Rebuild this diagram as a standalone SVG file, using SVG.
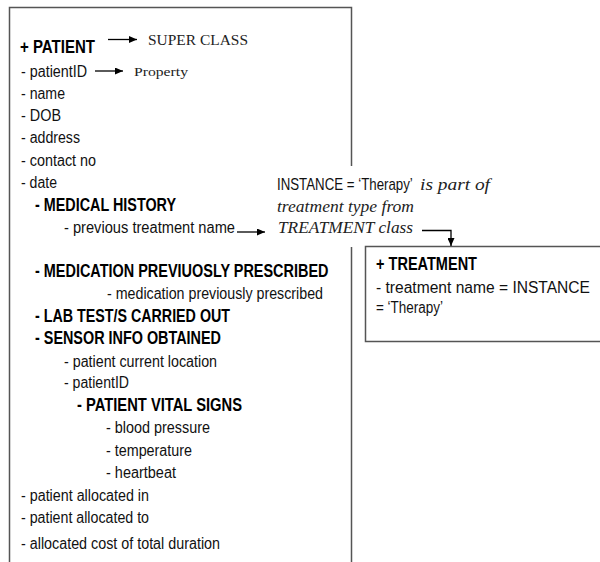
<svg xmlns="http://www.w3.org/2000/svg" width="600" height="562" viewBox="0 0 600 562">
<style>
.s{font-family:"Liberation Sans",Arial,sans-serif;font-size:16px;fill:#111}
.b{font-family:"Liberation Sans",Arial,sans-serif;font-size:18px;font-weight:bold;fill:#000}
.r{font-family:"Liberation Serif","Times New Roman",serif;fill:#222}
.i{font-family:"Liberation Serif","Times New Roman",serif;font-style:italic;font-size:16px;fill:#222}
.box{fill:none;stroke:#555;stroke-width:1.5}
.c{fill:none;stroke:#000;stroke-width:1.3}
</style>
<defs>
<marker id="ah" markerUnits="userSpaceOnUse" markerWidth="9" markerHeight="7" refX="8" refY="3.5" orient="auto">
<path d="M0,0 L8,3.5 L0,7 z" fill="#000"/>
</marker>
</defs>
<rect width="600" height="562" fill="#fff"/>

<g id="patient">
<path class="box" d="M351.5,166 V7.5 H9.5 V563 M351.5,247 V563"/>
<text class="b" x="20" y="52.5" textLength="75" lengthAdjust="spacingAndGlyphs">+ PATIENT</text>
<text class="s" x="21" y="77" textLength="66" lengthAdjust="spacingAndGlyphs">- patientID</text>
<text class="s" x="21" y="99" textLength="44" lengthAdjust="spacingAndGlyphs">- name</text>
<text class="s" x="21" y="121" textLength="40" lengthAdjust="spacingAndGlyphs">- DOB</text>
<text class="s" x="21" y="143" textLength="59" lengthAdjust="spacingAndGlyphs">- address</text>
<text class="s" x="21" y="166" textLength="75" lengthAdjust="spacingAndGlyphs">- contact no</text>
<text class="s" x="21" y="188" textLength="36" lengthAdjust="spacingAndGlyphs">- date</text>
<text class="b" x="35" y="211" textLength="141" lengthAdjust="spacingAndGlyphs">- MEDICAL HISTORY</text>
<text class="s" x="64" y="233" textLength="171" lengthAdjust="spacingAndGlyphs">-  previous treatment name</text>
<text class="b" transform="translate(35,277) scale(0.803,1)">- MEDICATION PREVIUOSLY PRESCRIBED</text>
<text class="s" x="107" y="299" textLength="216" lengthAdjust="spacingAndGlyphs">- medication previously prescribed</text>
<text class="b" x="35" y="322" textLength="195" lengthAdjust="spacingAndGlyphs">- LAB TEST/S CARRIED OUT</text>
<text class="b" x="35" y="344" textLength="186" lengthAdjust="spacingAndGlyphs">- SENSOR INFO OBTAINED</text>
<text class="s" x="64" y="367" textLength="153" lengthAdjust="spacingAndGlyphs">- patient current location</text>
<text class="s" x="64" y="388" textLength="65" lengthAdjust="spacingAndGlyphs">- patientID</text>
<text class="b" x="77" y="411" textLength="165" lengthAdjust="spacingAndGlyphs">- PATIENT VITAL SIGNS</text>
<text class="s" x="106" y="433" textLength="104" lengthAdjust="spacingAndGlyphs">- blood pressure</text>
<text class="s" x="106" y="456" textLength="86" lengthAdjust="spacingAndGlyphs">- temperature</text>
<text class="s" x="106" y="478" textLength="70" lengthAdjust="spacingAndGlyphs">- heartbeat</text>
<text class="s" x="21" y="501" textLength="128" lengthAdjust="spacingAndGlyphs">- patient allocated in</text>
<text class="s" x="21" y="523" textLength="128" lengthAdjust="spacingAndGlyphs">- patient allocated to</text>
<text class="s" x="21" y="549" textLength="199" lengthAdjust="spacingAndGlyphs">- allocated cost of total duration</text>
</g>

<g id="treatment">
<path class="box" d="M601,246.5 H365.5 V341.5 H601"/>
<text class="b" x="376" y="269.5" font-size="17.5" textLength="101" lengthAdjust="spacingAndGlyphs">+ TREATMENT</text>
<text class="s" x="376" y="293" textLength="214" lengthAdjust="spacingAndGlyphs">- treatment name = INSTANCE</text>
<text class="s" x="376" y="313" textLength="67" lengthAdjust="spacingAndGlyphs">= ‘Therapy’</text>
</g>

<g id="super-class-label">
<text class="r" x="148" y="45" font-size="15.5" textLength="100" lengthAdjust="spacingAndGlyphs">SUPER CLASS</text>
</g>
<g id="property-label">
<text class="r" x="134" y="76" font-size="13.5" textLength="54" lengthAdjust="spacingAndGlyphs">Property</text>
</g>
<g id="instance-label">
<text class="s" transform="translate(277,190) scale(0.83,1)">INSTANCE = ‘Therapy’</text>
<text class="i" x="420" y="190" textLength="70" lengthAdjust="spacingAndGlyphs">is part of</text>
<text class="i" x="277" y="212" textLength="137" lengthAdjust="spacingAndGlyphs">treatment type from</text>
<text class="i" x="278" y="233" textLength="135" lengthAdjust="spacingAndGlyphs">TREATMENT class</text>
</g>

<g id="connectors">
<path class="c" d="M108,39.5 H137" marker-end="url(#ah)"/>
<path class="c" d="M95,71 H123" marker-end="url(#ah)"/>
<path class="c" d="M237,232 H265" marker-end="url(#ah)"/>
<path class="c" d="M422,230.5 H451 V246" marker-end="url(#ah)"/>
</g>
</svg>
